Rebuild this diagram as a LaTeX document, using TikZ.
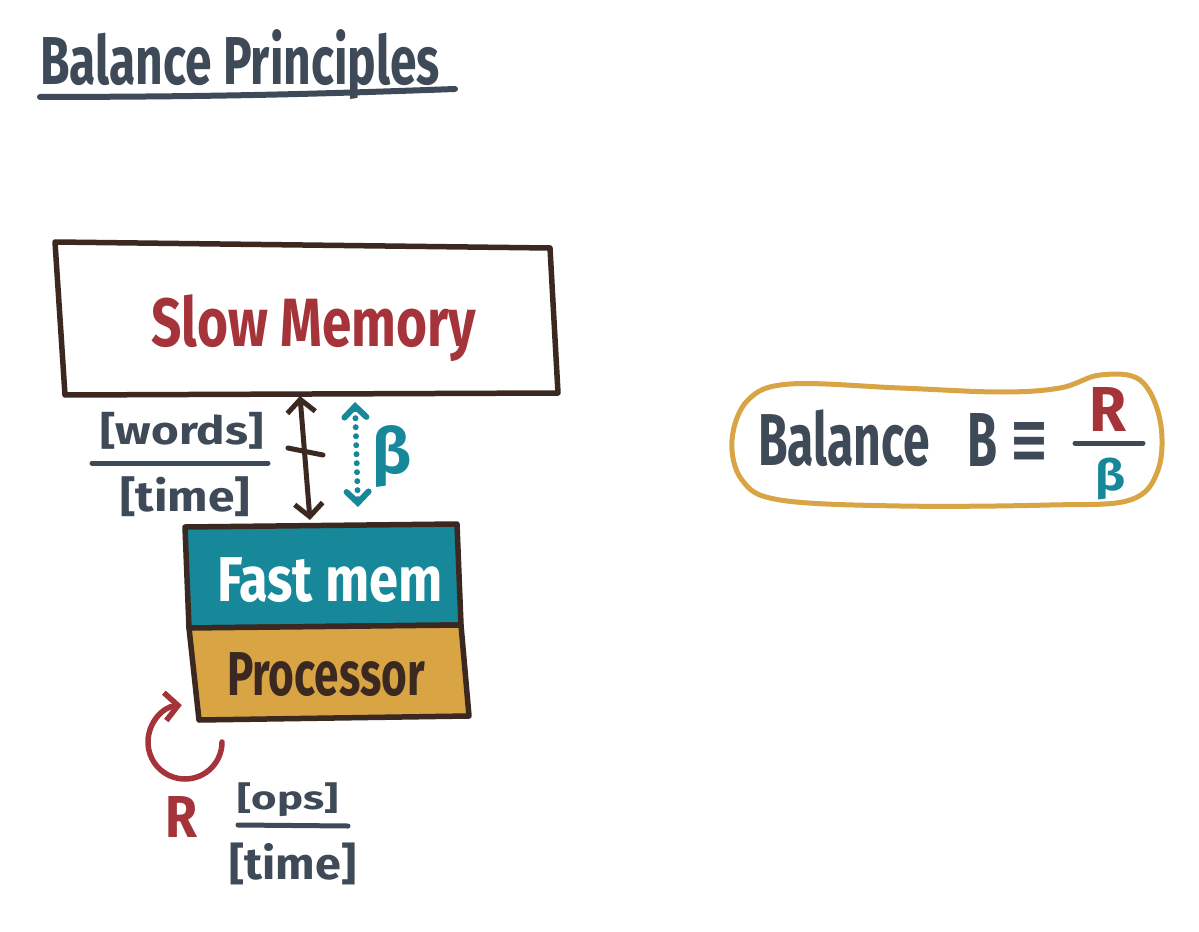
\documentclass[tikz,border=0pt]{standalone}
\usepackage{fontspec}
\usepackage{graphicx}
\setmainfont{Fira Sans}
\newfontfamily\dejavu{DejaVu Sans}
\usetikzlibrary{arrows.meta}
\definecolor{slate}{HTML}{3E4A57}
\definecolor{mybrown}{HTML}{3B2921}
\definecolor{myred}{HTML}{A5343A}
\definecolor{myteal}{HTML}{16889A}
\definecolor{mygold}{HTML}{D9A443}
\newcommand{\fitbox}[3]{\resizebox*{#1}{#2}{\bfseries #3}}
\begin{document}
\begin{tikzpicture}[x=0.02cm,y=-0.02cm,
  txt/.style={inner sep=0pt, outer sep=0pt, anchor=center},
  boxline/.style={draw=mybrown, line width=0.11cm, line join=round, line cap=round},
  fracline/.style={draw=slate, line width=0.1cm, line cap=round},
  brownarrow/.style={draw=mybrown, line width=0.1cm, line cap=round, {Straight Barb[length=0.26cm, width=0.56cm]}-{Straight Barb[length=0.26cm, width=0.56cm]}},
  tealarrow/.style={draw=myteal, line width=0.12cm, line cap=round, dash pattern=on 0pt off 0.18cm, {Straight Barb[length=0.22cm, width=0.44cm, line cap=round]}-{Straight Barb[length=0.22cm, width=0.44cm, line cap=round]}},
  redarrow/.style={draw=myred, line width=0.11cm, line cap=round, -{Straight Barb[length=0.26cm, width=0.56cm]}}
]
\fill[white] (0,0) rectangle (1199,932);
\useasboundingbox (0,0) rectangle (1199,932);

% title
\node[txt, text=slate] (title) at (240,65) {\fitbox{8.0cm}{1.4cm}{Balance Principles}};
\coordinate (ulA) at (40,97);
\coordinate (ulB) at (455,89);
\draw[slate, line width=0.12cm, line cap=round] (ulA) to[bend right=1] (ulB);

% slow memory box
\coordinate (smTL) at (55,242);
\coordinate (smTR) at (550,248);
\coordinate (smBR) at (558,393);
\coordinate (smBL) at (65,395);
\draw[boxline] (smTL) -- (smTR) -- (smBR) -- (smBL) -- cycle;
\node[txt, text=myred] (slow) at (314,328) {\fitbox{6.5cm}{1.34cm}{Slow Memory}};

% fast mem + processor
\coordinate (fmTL) at (185,527);
\coordinate (fmTR) at (457,524);
\coordinate (fmBR) at (461,625);
\coordinate (fmBL) at (189,628);
\coordinate (prBR) at (469,716);
\coordinate (prBL) at (199,720);
\filldraw[boxline, fill=myteal] (fmTL) -- (fmTR) -- (fmBR) -- (fmBL) -- cycle;
\filldraw[boxline, fill=mygold] (fmBL) -- (fmBR) -- (prBR) -- (prBL) -- cycle;
\node[txt, text=white] (fast) at (330,580) {\fitbox{4.52cm}{0.9cm}{Fast mem}};
\node[txt, text=mybrown] (proc) at (326,675) {\fitbox{3.96cm}{0.88cm}{Processor}};

% bandwidth arrows
\coordinate (aTop) at (300,396);
\coordinate (aBot) at (310,520);
\draw[brownarrow] (aTop) -- (aBot);
\coordinate (tk1) at (288,448);
\coordinate (tk2) at (323,455);
\draw[mybrown, line width=0.1cm, line cap=round] (tk1) -- (tk2);
\coordinate (bTop) at (355,402);
\coordinate (bBot) at (358,507);
\draw[tealarrow] (bTop) -- (bBot);
\node[txt, text=myteal] (beta) at (392,457) {\fitbox{0.78cm}{1.24cm}{β}};

% words / time
\node[txt, text=slate] (words) at (182,431) {\fitbox{3.26cm}{0.74cm}{[words]}};
\coordinate (fwA) at (92,463);
\coordinate (fwB) at (268,463);
\draw[fracline] (fwA) -- (fwB);
\node[txt, text=slate] (time1) at (185,497) {\fitbox{2.6cm}{0.8cm}{[time]}};

% R loop
\coordinate (rStart) at (222,742);
\draw[redarrow] (rStart) arc[start angle=0, end angle=265, radius=37];
\node[txt, text=myred] (Rlab) at (181,817) {\fitbox{0.64cm}{0.82cm}{R}};
\node[txt, text=slate] (ops) at (288,800) {\fitbox{2.02cm}{0.68cm}{[ops]}};
\coordinate (foA) at (238,825);
\coordinate (foB) at (348,826);
\draw[fracline] (foA) -- (foB);
\node[txt, text=slate] (time2) at (293,864) {\fitbox{2.54cm}{0.84cm}{[time]}};

% balance oval
\draw[mygold, line width=0.1cm] plot[smooth cycle, tension=0.6] coordinates {
 (732,440) (748,400) (790,384) (900,388) (1000,392) (1060,388) (1100,375)
 (1140,380) (1160,420) (1158,470) (1130,500) (1050,505) (900,506) (780,500) (742,480)};
\node[txt, text=slate] (bal) at (844,438) {\fitbox{3.44cm}{1.14cm}{Balance}};
\node[txt, text=slate] (bigB) at (982,440) {\fitbox{0.6cm}{1.06cm}{B}};
\node[txt, text=slate] (equiv) at (1029,442) {\fitbox{0.8cm}{0.8cm}{\dejavu ≡}};
\node[txt, text=myred] (Rnum) at (1108,410) {\fitbox{0.74cm}{0.88cm}{R}};
\coordinate (ffA) at (1075,443);
\coordinate (ffB) at (1143,443);
\draw[fracline] (ffA) -- (ffB);
\node[txt, text=myteal] (bden) at (1110,479) {\fitbox{0.6cm}{0.84cm}{β}};
\end{tikzpicture}
\end{document}
